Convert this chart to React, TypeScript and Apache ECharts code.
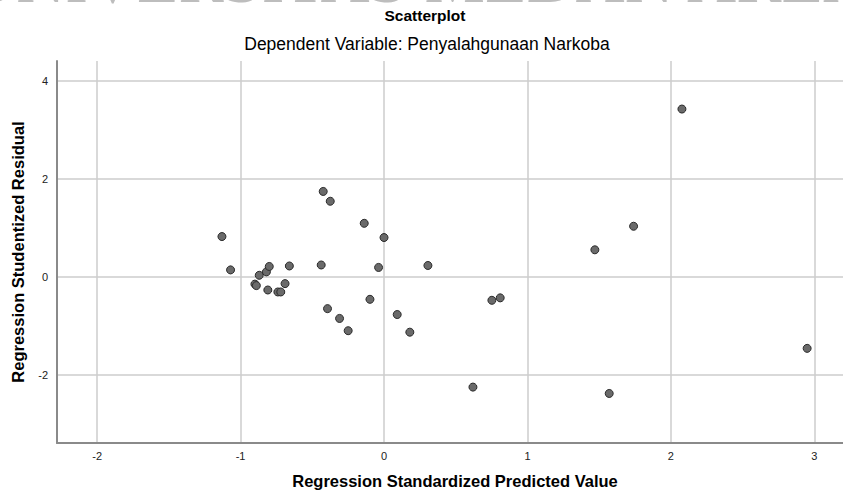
import React, { useEffect, useRef } from "react";
import * as echarts from "echarts";

const predicted: number[] = [
  -1.13, -1.07, -0.9, -0.89, -0.87, -0.82, -0.8, -0.81, -0.74, -0.72, -0.69, -0.66,
  -0.424, -0.375, -0.138, 0.0, -0.438, -0.038, 0.306, -0.394, -0.098, -0.31, -0.25, 0.092,
  0.18, 0.752, 0.81, 0.62, 2.077, 1.74, 1.47, 2.95, 1.57,
];
const residual: number[] = [
  0.82, 0.14, -0.15, -0.18, 0.03, 0.1, 0.21, -0.27, -0.31, -0.31, -0.14, 0.22,
  1.74, 1.54, 1.09, 0.8, 0.24, 0.19, 0.23, -0.65, -0.46, -0.85, -1.1, -0.77,
  -1.13, -0.48, -0.43, -2.25, 3.42, 1.03, 0.55, -1.46, -2.38,
];
const xTicks: number[] = [-2, -1, 0, 1, 2, 3];
const yTicks: number[] = [-2, 0, 2, 4];

const titleText = "Scatterplot";
const subtitleText = "Dependent Variable: Penyalahgunaan Narkoba";
const xName = "Regression Standardized Predicted Value";
const yName = "Regression Studentized Residual";
const watermark = "UNIVERSITAS MEDAN AREA";

const FONT = "'Liberation Sans', Arial, sans-serif";

export default function App() {
  const ref = useRef<HTMLDivElement>(null);
  useEffect(() => {
    if (!ref.current) return;
    const chart = echarts.init(ref.current, null, { renderer: "svg" });
    const data = predicted.map((x, i) => [x, residual[i]]);
    chart.setOption({
      animation: false,
      backgroundColor: "#ffffff",
      title: [
        {
          text: titleText,
          left: 420,
          textAlign: "center",
          top: 2,
          textStyle: { fontFamily: FONT, fontSize: 15.5, fontWeight: "bold", color: "#000" },
        },
        {
          text: subtitleText,
          left: 422,
          textAlign: "center",
          top: 30,
          textStyle: { fontFamily: FONT, fontSize: 17.5, fontWeight: "normal", color: "#000" },
        },
      ],
      graphic: [
        {
          type: "text",
          left: "center",
          top: -55,
          silent: true,
          z: -10,
          style: {
            text: watermark,
            font: "normal 68px 'Liberation Serif', serif",
            fill: "#bdbdbd",
          },
        },
      ],
      grid: { left: 57, top: 61, right: 0, bottom: 53, containLabel: false },
      xAxis: {
        type: "value",
        min: -2.28,
        max: 3.2,
        name: xName,
        nameLocation: "middle",
        nameGap: 29,
        nameTextStyle: {
          fontFamily: FONT,
          fontSize: 16.5,
          fontWeight: "bold",
          color: "#000",
          padding: [0, 0, 0, 10],
        },
        axisLine: { show: true, onZero: false, lineStyle: { color: "#8a8a8a", width: 2 } },
        axisTick: { show: false, customValues: xTicks },
        axisLabel: {
          customValues: xTicks,
          fontFamily: FONT,
          fontSize: 11,
          color: "#222",
          margin: 7,
        },
        splitLine: { show: true, lineStyle: { color: "#cccccc", width: 1.5 } },
      },
      yAxis: {
        type: "value",
        min: -3.39,
        max: 4.4,
        name: yName,
        nameLocation: "middle",
        nameGap: 31,
        nameRotate: 90,
        nameTextStyle: { fontFamily: FONT, fontSize: 16.5, fontWeight: "bold", color: "#000" },
        axisLine: { show: true, onZero: false, lineStyle: { color: "#8a8a8a", width: 2 } },
        axisTick: { show: false, customValues: yTicks },
        axisLabel: {
          customValues: yTicks,
          fontFamily: FONT,
          fontSize: 11,
          color: "#222",
          margin: 9,
        },
        splitLine: { show: true, lineStyle: { color: "#cccccc", width: 1.5 } },
      },
      series: [
        {
          type: "scatter",
          data,
          symbol: "circle",
          symbolSize: 8,
          itemStyle: { color: "#6a6a6a", borderColor: "#2a2a2a", borderWidth: 1, opacity: 1 },
        },
      ],
    });
    return () => chart.dispose();
  }, []);
  return (
    <div
      ref={ref}
      style={{ position: "fixed", left: 0, top: 0, width: 843, height: 496 }}
    />
  );
}
